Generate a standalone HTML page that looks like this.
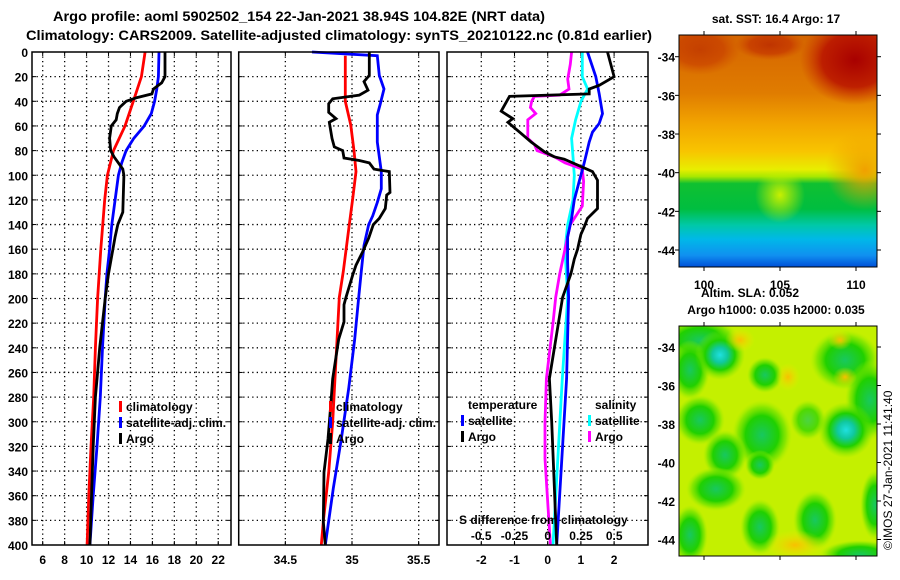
<!DOCTYPE html>
<html><head><meta charset="utf-8">
<style>
html,body{margin:0;padding:0;background:#fff;}
svg{display:block;font-family:"Liberation Sans",sans-serif;font-weight:bold;}
</style></head>
<body>
<svg id="chart" width="900" height="580" viewBox="0 0 900 580" xmlns="http://www.w3.org/2000/svg">
<defs>
<linearGradient id="sstg" x1="0" y1="0" x2="0" y2="1">
<stop offset="0" stop-color="#d46400"/>
<stop offset="0.25" stop-color="#e07c00"/>
<stop offset="0.38" stop-color="#f2a400"/>
<stop offset="0.5" stop-color="#f8c400"/>
<stop offset="0.58" stop-color="#e8ee00"/>
<stop offset="0.61" stop-color="#a8e800"/>
<stop offset="0.64" stop-color="#10c030"/>
<stop offset="0.75" stop-color="#00be40"/>
<stop offset="0.82" stop-color="#00c8a8"/>
<stop offset="0.88" stop-color="#00b8e8"/>
<stop offset="0.95" stop-color="#1090f0"/>
<stop offset="1" stop-color="#0050d8"/>
</linearGradient>
<radialGradient id="darkred" cx="0.5" cy="0.5" r="0.5">
<stop offset="0" stop-color="#a80000" stop-opacity="1"/>
<stop offset="0.6" stop-color="#b81000" stop-opacity="0.85"/>
<stop offset="1" stop-color="#c83000" stop-opacity="0"/>
</radialGradient>
<radialGradient id="orangeR" cx="0.5" cy="0.5" r="0.5">
<stop offset="0" stop-color="#f0a000" stop-opacity="1"/>
<stop offset="1" stop-color="#f0a000" stop-opacity="0"/>
</radialGradient>
<radialGradient id="yellowT" cx="0.5" cy="0.5" r="0.5">
<stop offset="0" stop-color="#c8f000" stop-opacity="1"/>
<stop offset="1" stop-color="#c8f000" stop-opacity="0"/>
</radialGradient>
<radialGradient id="gblob" cx="0.5" cy="0.5" r="0.5">
<stop offset="0" stop-color="#18c860"/>
<stop offset="0.55" stop-color="#20d000"/>
<stop offset="0.8" stop-color="#60e000" stop-opacity="0.6"/>
<stop offset="1" stop-color="#a0f000" stop-opacity="0"/>
</radialGradient>
<radialGradient id="cblob" cx="0.5" cy="0.5" r="0.5">
<stop offset="0" stop-color="#20e0e0"/>
<stop offset="0.3" stop-color="#10c8a0"/>
<stop offset="0.6" stop-color="#20d000"/>
<stop offset="1" stop-color="#80e800" stop-opacity="0"/>
</radialGradient>
<radialGradient id="oblob" cx="0.5" cy="0.5" r="0.5">
<stop offset="0" stop-color="#f8c000"/>
<stop offset="1" stop-color="#f0e800" stop-opacity="0"/>
</radialGradient>
<clipPath id="clipSST"><rect x="679" y="35" width="198" height="232"/></clipPath>
<clipPath id="clipSLA"><rect x="679" y="326" width="198" height="230"/></clipPath>
</defs>

<text x="53" y="21" font-size="14" textLength="492" lengthAdjust="spacingAndGlyphs">Argo profile: aoml 5902502_154 22-Jan-2021 38.94S 104.82E (NRT data)</text>
<text x="26" y="40" font-size="14" textLength="626" lengthAdjust="spacingAndGlyphs">Climatology: CARS2009. Satellite-adjusted climatology: synTS_20210122.nc (0.81d earlier)</text>

<g id="panels"></g>

<!-- SST map -->
<g>
<text x="776" y="23" font-size="12" text-anchor="middle">sat. SST: 16.4 Argo: 17</text>
<g clip-path="url(#clipSST)">
<rect x="679" y="35" width="198" height="232" fill="url(#sstg)"/>
<ellipse cx="855" cy="60" rx="55" ry="45" fill="url(#darkred)"/>
<ellipse cx="700" cy="50" rx="40" ry="25" fill="url(#darkred)" opacity="0.4"/>
<ellipse cx="770" cy="45" rx="35" ry="15" fill="url(#darkred)" opacity="0.5"/>
<ellipse cx="865" cy="170" rx="40" ry="40" fill="url(#orangeR)"/>
<ellipse cx="780" cy="195" rx="25" ry="28" fill="url(#yellowT)"/>
</g>
<rect x="679" y="35" width="198" height="232" fill="none" stroke="#000"/>
</g>

<!-- SLA map -->
<g>
<text x="750" y="297" font-size="12" text-anchor="middle">Altim. SLA: 0.052</text>
<text x="776" y="314" font-size="12" text-anchor="middle">Argo h1000: 0.035 h2000: 0.035</text>
<g clip-path="url(#clipSLA)">
<rect x="679" y="326" width="198" height="230" fill="#c4f000"/>
<ellipse cx="700" cy="340" rx="40" ry="22" fill="url(#gblob)"/>
<ellipse cx="690" cy="370" rx="20" ry="30" fill="url(#gblob)"/>
<ellipse cx="845" cy="360" rx="35" ry="30" fill="url(#gblob)"/>
<ellipse cx="870" cy="400" rx="25" ry="40" fill="url(#gblob)"/>
<ellipse cx="765" cy="375" rx="18" ry="18" fill="url(#gblob)"/>
<ellipse cx="700" cy="420" rx="25" ry="25" fill="url(#gblob)"/>
<ellipse cx="762" cy="435" rx="30" ry="35" fill="url(#gblob)"/>
<ellipse cx="725" cy="455" rx="22" ry="25" fill="url(#gblob)"/>
<ellipse cx="716" cy="489" rx="30" ry="22" fill="url(#gblob)"/>
<ellipse cx="760" cy="527" rx="20" ry="28" fill="url(#gblob)"/>
<ellipse cx="815" cy="520" rx="22" ry="30" fill="url(#gblob)"/>
<ellipse cx="690" cy="535" rx="18" ry="30" fill="url(#gblob)"/>
<ellipse cx="860" cy="555" rx="40" ry="15" fill="url(#gblob)"/>
<ellipse cx="875" cy="505" rx="15" ry="35" fill="url(#gblob)"/>
<ellipse cx="808" cy="420" rx="18" ry="20" fill="url(#gblob)" opacity="0.7"/>
<ellipse cx="720" cy="355" rx="25" ry="25" fill="url(#cblob)"/>
<ellipse cx="846" cy="430" rx="28" ry="28" fill="url(#cblob)"/>
<ellipse cx="760" cy="465" rx="15" ry="15" fill="url(#gblob)"/>
<ellipse cx="788" cy="377" rx="12" ry="14" fill="url(#oblob)"/>
<ellipse cx="795" cy="545" rx="30" ry="15" fill="url(#oblob)"/>
<ellipse cx="740" cy="340" rx="15" ry="12" fill="url(#oblob)"/>
<ellipse cx="840" cy="340" rx="12" ry="10" fill="url(#oblob)"/>
<ellipse cx="845" cy="377" rx="12" ry="10" fill="url(#oblob)"/>
</g>
<rect x="679" y="326" width="198" height="230" fill="none" stroke="#000"/>
</g>
<text transform="translate(892,550) rotate(-90)" font-size="12" font-weight="normal">©IMOS 27-Jan-2021 11:41:40</text>

<script>
// ---------- Panel 1: temperature ----------
const tDepthClim = [0,20,40,60,80,100,120,160,200,240,280,320,360,400];
const tClim = [15.33,15.0,14.26,13.5,12.45,11.9,11.65,11.3,11.0,10.8,10.65,10.4,10.2,10.05];
const tDepthSat = [0,20,30,40,50,60,70,80,90,100,120,140,160,180,200,240,280,320,360,400];
const tSat = [16.6,16.55,16.4,16.2,15.9,15.25,14.3,13.6,13.2,12.9,12.6,12.3,12.1,11.85,11.7,11.45,11.25,10.95,10.6,10.3];
const tDepthArgo = [0,20,25,30,34,37,40,45,50,55,60,70,80,85,90,95,100,130,140,150,160,180,200,240,260,280,320,360,400];
const tArgo = [17.15,17.15,16.85,16.1,15.95,14.6,13.6,13.0,12.8,12.7,12.25,12.1,12.2,12.5,12.9,13.3,13.4,13.3,12.85,12.6,12.4,12.0,11.7,11.2,11.0,10.8,10.6,10.45,10.3];
const tTicks = [6,8,10,12,14,16,18,20,22];
const depthTicks = [0,20,40,60,80,100,120,140,160,180,200,220,240,260,280,300,320,340,360,380,400];

// ---------- Panel 2: salinity ----------
const sDepthClim = [3,40,59,80,97,119,140,178,199,260,300,341,381,400];
const sClim = [34.95,34.95,34.99,35.015,35.03,35.005,34.98,34.935,34.905,34.875,34.855,34.825,34.785,34.77];
const sDepthSat = [0,3,19,30,43,51,73,97,111,122,133,140,157,178,199,233,273,314,354,400];
const sSat = [34.7,35.19,35.205,35.24,35.21,35.19,35.19,35.22,35.22,35.19,35.155,35.125,35.09,35.07,35.05,35.02,34.975,34.92,34.86,34.8];
const sDepthArgo = [0,19,24,31,35,38,42,49,54,57,70,77,80,86,88,90,95,97,114,116,127,135,140,151,162,173,181,199,205,219,233,265,287,314,341,381,400];
const sArgo = [35.13,35.13,35.09,35.12,35.055,34.855,34.825,34.825,34.88,34.83,34.85,34.867,34.93,34.94,35.055,35.13,35.165,35.28,35.285,35.26,35.25,35.205,35.16,35.125,35.08,35.03,35.005,34.955,34.94,34.94,34.90,34.855,34.84,34.82,34.79,34.785,34.8];
const sTicks = [34.5,35,35.5];

// ---------- Panel 3: differences ----------
const dDepthTArgo = [0,20,27,30,34,36,48,54,57,65,73,81,85,87,97,104,114,127,135,142,148,154,160,168,180,199,265,300,400];
const dTArgo = [1.8,2.0,1.55,1.25,1.25,-1.15,-1.4,-1.05,-1.2,-0.85,-0.5,-0.1,0.2,0.5,1.35,1.5,1.5,1.5,1.2,1.1,1.0,0.95,0.9,0.8,0.7,0.45,0.05,0.12,0.27];
const dDepthTSat = [0,20,34,50,58,65,73,90,105,120,135,150,170,199,265,400];
const dTSat = [1.2,1.45,1.55,1.65,1.55,1.35,1.25,1.1,0.95,0.8,0.72,0.6,0.6,0.63,0.57,0.27];
const dDepthSSat = [0,20,30,40,55,70,85,100,120,140,160,199,265,400];
const dSSat = [0.26,0.26,0.30,0.25,0.21,0.18,0.19,0.20,0.19,0.15,0.13,0.15,0.11,0.04];
const dDepthSArgo = [0,10,22,30,35,36,40,45,50,55,70,75,80,85,90,95,105,125,140,160,180,199,220,265,300,330,400];
const dSArgo = [0.18,0.17,0.15,0.16,0.09,-0.1,-0.12,-0.13,-0.09,-0.15,-0.15,-0.1,-0.08,0.05,0.13,0.26,0.27,0.26,0.17,0.13,0.09,0.06,0.04,-0.01,-0.02,-0.02,0.02];
const dTTicks = [-2,-1,0,1,2];
const dSTickLabels = ["-0.5","-0.25","0","0.25","0.5"];
const dSTicks = [-0.5,-0.25,0,0.25,0.5];

const NS = "http://www.w3.org/2000/svg";
const root = document.getElementById('panels');
const yTop = 52, yBot = 545;
function yD(d){ return yTop + d*(yBot-yTop)/400; }
const xT = v => 42.7 + (v-6)*10.97;
const xS = v => 352 + (v-35)*133.3;
const xDT = v => 547.7 + v*33.2;
const xDS = v => 547.7 + v*133;

function mk(tag, attrs, parent){
  const e = document.createElementNS(NS, tag);
  for (const k in attrs) e.setAttribute(k, attrs[k]);
  (parent||root).appendChild(e);
  return e;
}
function txt(x,y,s,anchor,size,parent){
  const t = mk('text',{x:x,y:y,'text-anchor':anchor||'middle','font-size':size||12},parent);
  t.textContent = s;
  return t;
}
function frame(x0,x1,name){
  const g = mk('g',{});
  
  
  depthTicks.forEach(d=>{
    if(d===0||d===400) return;
    mk('line',{x1:x0,x2:x1,y1:yD(d),y2:yD(d),stroke:'#000','stroke-width':1.3,'stroke-dasharray':'1.3,3.2'},g);
    mk('line',{x1:x0,x2:x0+4,y1:yD(d),y2:yD(d),stroke:'#000'},g);
    mk('line',{x1:x1-4,x2:x1,y1:yD(d),y2:yD(d),stroke:'#000'},g);
  });
  return g;
}
function vgrid(g,xs){
  xs.forEach(x=>{
    mk('line',{x1:x,x2:x,y1:yTop,y2:yBot,stroke:'#000','stroke-width':1.3,'stroke-dasharray':'1.3,3.2'},g);
    mk('line',{x1:x,x2:x,y1:yTop,y2:yTop+4,stroke:'#000'},g);
    mk('line',{x1:x,x2:x,y1:yBot-4,y2:yBot,stroke:'#000'},g);
  });
}
function border(g,x0,x1){
  mk('rect',{x:x0,y:yTop,width:x1-x0,height:yBot-yTop,fill:'none',stroke:'#000','stroke-width':1.5},g);
}
function line(g,depths,vals,xf,color,name){
  const pts = depths.map((d,i)=> xf(vals[i]).toFixed(1)+','+yD(d).toFixed(1)).join(' ');
  const p = mk('polyline',{points:pts,fill:'none',stroke:color,'stroke-width':2.8,'stroke-linejoin':'miter'},g);
  
  
}
function legend(g,x,y,color,label,name){
  const lg = mk('g',{},g);
  
  
  mk('rect',{x:x,y:y-10,width:3,height:11,fill:color},lg);
  txt(x+7,y,label,'start',12,lg);
}

// Panel 1
const g1 = frame(32,231,'temperature-panel');
vgrid(g1, tTicks.slice(1,-1).map(xT).concat([xT(6),xT(22)]));
line(g1,tDepthClim,tClim,xT,'#ff0000','temp-climatology-line');
line(g1,tDepthSat,tSat,xT,'#0000ff','temp-satellite-line');
line(g1,tDepthArgo,tArgo,xT,'#000000','temp-argo-line');
border(g1,32,231);
depthTicks.forEach(d=>{ const t=txt(28,yD(d)+5,String(d),'end',12,g1);   });
tTicks.forEach(v=>{ const t=txt(xT(v),564,String(v),'middle',12,g1);   });
legend(g1,119,411,'#ff0000','climatology','legend-climatology');
legend(g1,119,427,'#0000ff','satellite-adj. clim.','legend-satellite-adj');
legend(g1,119,443,'#000000','Argo','legend-argo');

// Panel 2
const g2 = frame(238.7,439,'salinity-panel');
vgrid(g2, sTicks.map(xS));
line(g2,sDepthClim,sClim,xS,'#ff0000','sal-climatology-line');
line(g2,sDepthSat,sSat,xS,'#0000ff','sal-satellite-line');
line(g2,sDepthArgo,sArgo,xS,'#000000','sal-argo-line');
border(g2,238.7,439);
sTicks.forEach(v=>{ const t=txt(xS(v),564,String(v),'middle',12,g2);   });
legend(g2,329,411,'#ff0000','climatology','legend-climatology-2');
legend(g2,329,427,'#0000ff','satellite-adj. clim.','legend-satellite-adj-2');
legend(g2,329,443,'#000000','Argo','legend-argo-2');

// Panel 3
const g3 = frame(447,648,'difference-panel');
vgrid(g3, dTTicks.map(xDT));
line(g3,dDepthSSat,dSSat,xDS,'#00ffff','sdiff-satellite-line');
line(g3,dDepthSArgo,dSArgo,xDS,'#ff00ff','sdiff-argo-line');
line(g3,dDepthTSat,dTSat,xDT,'#0000ff','tdiff-satellite-line');
line(g3,dDepthTArgo,dTArgo,xDT,'#000000','tdiff-argo-line');
border(g3,447,648);
dTTicks.forEach(v=>{ const t=txt(xDT(v),564,String(v),'middle',12,g3);   });
dSTicks.forEach((v,i)=>{ const t=txt(xDS(v),540,dSTickLabels[i],'middle',12,g3);   });
const sdt = txt(459,524,'S difference from climatology','start',12,g3);


const tt = txt(468,409,'temperature','start',12,g3);


const st = txt(595,409,'salinity','start',12,g3);


legend(g3,461,425,'#0000ff','satellite','legend-temp-satellite');
legend(g3,461,441,'#000000','Argo','legend-temp-argo');
legend(g3,588,425,'#00ffff','satellite','legend-sal-satellite');
legend(g3,588,441,'#ff00ff','Argo','legend-sal-argo');

// Map axes
const svg = document.getElementById('chart');
const sstLat = [-34,-36,-38,-40,-42,-44];
const sstLon = [100,105,110];
const ySST = v => 56.7 + (v+34)*(-19.33);
const xMap = v => 704 + (v-100)*15.2;
const ySLA = v => 347 + (v+34)*(-19.25);
sstLat.forEach(v=>{
  const t=txt(675,ySST(v)+5,String(v),'end',12,svg);
   
  mk('line',{x1:877,x2:881,y1:ySST(v),y2:ySST(v),stroke:'#000'},svg);
  mk('line',{x1:675,x2:679,y1:ySST(v),y2:ySST(v),stroke:'#000'},svg);
  const t2=txt(675,ySLA(v)+5,String(v),'end',12,svg);
   
  mk('line',{x1:877,x2:881,y1:ySLA(v),y2:ySLA(v),stroke:'#000'},svg);
});
sstLon.forEach(v=>{
  const t=txt(xMap(v),289,String(v),'middle',12,svg);
   
  mk('line',{x1:xMap(v),x2:xMap(v),y1:267,y2:271,stroke:'#000'},svg);
  mk('line',{x1:xMap(v),x2:xMap(v),y1:31,y2:35,stroke:'#000'},svg);
  mk('line',{x1:xMap(v),x2:xMap(v),y1:556,y2:560,stroke:'#000'},svg);
  mk('line',{x1:xMap(v),x2:xMap(v),y1:322,y2:326,stroke:'#000'},svg);
});
</script>
</svg>
</body></html>
